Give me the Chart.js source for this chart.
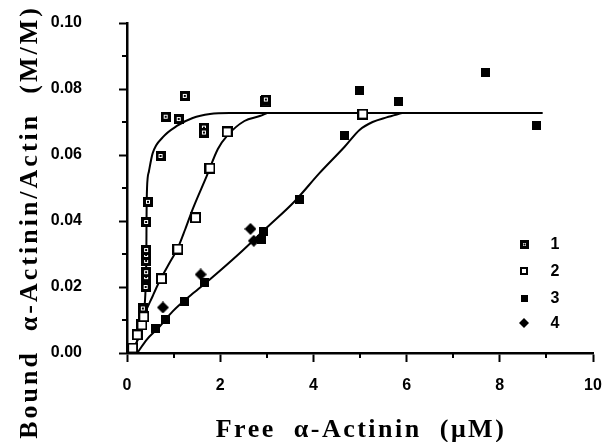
<!DOCTYPE html>
<html><head><meta charset="utf-8">
<script src="https://cdn.jsdelivr.net/npm/chart.js@4/dist/chart.umd.min.js"></script>
<style>html,body{margin:0;padding:0;background:#fff}#wrap{width:606px;height:442px}</style>
</head><body><div id="wrap"><canvas id="c" width="606" height="442"></canvas></div>
<script>
// ---- tick labels / titles ----
const xTickValues = [0, 2, 4, 6, 8, 10];
const xTickLabels = ['0', '2', '4', '6', '8', '10'];
const yTickValues = [0, 0.02, 0.04, 0.06, 0.08, 0.10];
const yTickLabels = ['0.00', '0.02', '0.04', '0.06', '0.08', '0.10'];
const xMinorTicks = [1, 3, 5, 7, 9];
const yMinorTicks = [0.01, 0.03, 0.05, 0.07, 0.09];
const xTitle = 'Free  α-Actinin  (μM)';
const yTitle = 'Bound  α-Actinin/Actin  (M/M)';
const legendLabels = ['1', '2', '3', '4'];

// ---- series 1 (square with dot) ----
const s1X = [0.34, 0.40, 0.41, 0.41, 0.41, 0.41, 0.41, 0.41, 0.45, 0.72, 0.83, 1.11, 1.24, 1.65, 1.65, 2.98];
const s1Y = [0.0135, 0.0200, 0.0230, 0.0245, 0.0279, 0.0297, 0.0312, 0.0397, 0.0458, 0.0597, 0.0716, 0.0709, 0.0779, 0.0683, 0.0668, 0.0768];
// ---- series 2 (open square) ----
const s2X = [0.12, 0.22, 0.32, 0.36, 0.74, 1.09, 1.47, 1.78, 2.15, 2.98, 5.06];
const s2Y = [0.0015, 0.0055, 0.0085, 0.0110, 0.0225, 0.0315, 0.0410, 0.0560, 0.0670, 0.0762, 0.0724];
// ---- series 3 (filled square) ----
const s3X = [0.62, 0.82, 1.24, 1.66, 2.88, 2.92, 3.70, 4.67, 4.99, 5.83, 7.70, 8.79];
const s3Y = [0.0075, 0.0102, 0.0157, 0.0213, 0.0345, 0.0368, 0.0464, 0.0660, 0.0794, 0.0763, 0.0851, 0.0690];
// ---- series 4 (filled diamond) ----
const s4X = [0.77, 1.58, 2.65, 2.72];
const s4Y = [0.0138, 0.0238, 0.0376, 0.0340];

// ---- fitted curves ----
const c1X = [0.08, 0.20, 0.30, 0.36, 0.40, 0.415, 0.42, 0.43, 0.47, 0.55, 0.77, 1.07, 1.41, 1.78, 2.20, 8.92];
const c1Y = [0.000, 0.003, 0.007, 0.012, 0.020, 0.030, 0.042, 0.050, 0.055, 0.0605, 0.0654, 0.0688, 0.0712, 0.0724, 0.0727, 0.0727];
const c2X = [0.12, 0.25, 0.36, 0.55, 0.70, 0.92, 1.09, 1.25, 1.41, 1.71, 1.95, 2.16, 2.52, 2.85, 3.0];
const c2Y = [0.000, 0.005, 0.011, 0.0172, 0.0218, 0.0275, 0.0318, 0.0375, 0.0436, 0.0536, 0.0618, 0.0660, 0.0703, 0.0718, 0.0727];
const c3X = [0.22, 0.42, 0.70, 0.98, 1.41, 1.77, 2.40, 3.00, 3.60, 4.13, 4.67, 4.99, 5.27, 5.57, 5.90];
const c3Y = [0.000, 0.004, 0.008, 0.0126, 0.0180, 0.0222, 0.0300, 0.0380, 0.0460, 0.0545, 0.0625, 0.0676, 0.0700, 0.0714, 0.0727];

const pts = (xs, ys) => xs.map((x, i) => ({ x: x, y: ys[i] }));

function marker(kind, s) {
  const c = document.createElement('canvas');
  c.width = s; c.height = s;
  const g = c.getContext('2d');
  g.fillStyle = '#000';
  if (kind === 'dotsq') {
    g.fillRect(0, 0, s, s);
    const b = 3;
    g.fillStyle = '#fff'; g.fillRect(b, b, s - 2 * b, s - 2 * b);
    g.fillStyle = '#000'; g.fillRect(s / 2 - 1, s / 2 - 1, 2, 2);
  } else if (kind === 'opensq') {
    g.fillRect(0, 0, s, s);
    g.fillStyle = '#fff'; g.fillRect(2, 2, s - 4, s - 4);
  } else if (kind === 'fillsq') {
    g.fillRect(0, 0, s, s);
  } else {
    g.beginPath(); g.moveTo(s / 2, 0); g.lineTo(s, s / 2); g.lineTo(s / 2, s); g.lineTo(0, s / 2); g.closePath(); g.fill();
  }
  return c;
}
const kinds = ['dotsq', 'opensq', 'fillsq', 'diamond'];
const plotSizes = [10, 11, 9, 12];
const legendSizes = [9, 8, 7, 10];
const plotMarkers = kinds.map((k, i) => marker(k, plotSizes[i]));
const legendMarkers = kinds.map((k, i) => marker(k, legendSizes[i]));

function scatterSet(label, data, img) {
  return { label: label, data: data, showLine: false, pointStyle: img, pointRadius: 5, pointHoverRadius: 5 };
}
function curveSet(data) {
  return { label: '', data: data, showLine: true, borderColor: '#000', borderWidth: 2,
    pointRadius: 0, pointHoverRadius: 0, cubicInterpolationMode: 'monotone', fill: false };
}

const tickFont = { family: '"Liberation Sans", Arial, sans-serif', size: 16, weight: 'bold' };

const extras = {
  id: 'extras',
  afterDraw(chart) {
    const ctx = chart.ctx, xs = chart.scales.x, ys = chart.scales.y, ca = chart.chartArea;
    ctx.save();
    ctx.strokeStyle = '#000'; ctx.lineWidth = 2;
    xMinorTicks.forEach(v => { const px = Math.round(xs.getPixelForValue(v)); ctx.beginPath(); ctx.moveTo(px, ca.bottom); ctx.lineTo(px, ca.bottom + 5); ctx.stroke(); });
    yMinorTicks.forEach(v => { const py = Math.round(ys.getPixelForValue(v)); ctx.beginPath(); ctx.moveTo(ca.left, py); ctx.lineTo(ca.left - 5, py); ctx.stroke(); });
    // legend
    const rowsY = [244, 271, 298, 323];
    ctx.font = 'bold 16px "Liberation Sans", Arial, sans-serif';
    ctx.fillStyle = '#000'; ctx.textAlign = 'center'; ctx.textBaseline = 'middle';
    legendLabels.forEach((t, i) => {
      const m = legendMarkers[i];
      ctx.drawImage(m, Math.round(524 - m.width / 2), Math.round(rowsY[i] - m.height / 2));
      ctx.fillText(t, 555, rowsY[i] + 1);
    });
    // axis titles
    ctx.font = 'bold 26px "Liberation Serif", "Times New Roman", serif';
    ctx.textAlign = 'center'; ctx.textBaseline = 'alphabetic';
    ctx.letterSpacing = '2.5px';
    ctx.fillText(xTitle, 361, 437);
    ctx.translate(37, 222);
    ctx.rotate(-Math.PI / 2);
    ctx.letterSpacing = '3px';
    ctx.fillText(yTitle, 0, 0);
    ctx.restore();
  }
};

new Chart(document.getElementById('c'), {
  type: 'scatter',
  data: {
    datasets: [
      scatterSet('1', pts(s1X, s1Y), plotMarkers[0]),
      scatterSet('2', pts(s2X, s2Y), plotMarkers[1]),
      scatterSet('3', pts(s3X, s3Y), plotMarkers[2]),
      scatterSet('4', pts(s4X, s4Y), plotMarkers[3]),
      curveSet(pts(c1X, c1Y)),
      curveSet(pts(c2X, c2Y)),
      curveSet(pts(c3X, c3Y))
    ]
  },
  options: {
    responsive: false, animation: false, devicePixelRatio: 1, events: [],
    layout: { autoPadding: false, padding: { top: 23, right: 13, left: 0, bottom: 0 } },
    plugins: { legend: { display: false }, tooltip: { enabled: false } },
    scales: {
      x: {
        type: 'linear', min: 0, max: 10,
        afterBuildTicks: s => { s.ticks = xTickValues.map(v => ({ value: v })); },
        afterFit: s => { s.height = 89; s.paddingLeft = 0; s.paddingRight = 0; },
        ticks: { callback: v => xTickLabels[xTickValues.indexOf(v)], font: tickFont, color: '#000', padding: 14, maxRotation: 0, autoSkip: false },
        grid: { drawOnChartArea: false, drawTicks: true, tickLength: 9, tickWidth: 2, tickColor: '#000' },
        border: { display: true, color: '#000', width: 2.5 }
      },
      y: {
        type: 'linear', min: 0, max: 0.1,
        afterBuildTicks: s => { s.ticks = yTickValues.map(v => ({ value: v })); },
        afterFit: s => { s.width = 127; s.paddingTop = 0; s.paddingBottom = 0; },
        ticks: { callback: v => yTickLabels[yTickValues.findIndex(t => Math.abs(t - v) < 1e-9)], font: tickFont, color: '#000', padding: 37, autoSkip: false },
        grid: { drawOnChartArea: false, drawTicks: true, tickLength: 8, tickWidth: 2, tickColor: '#000' },
        border: { display: true, color: '#000', width: 2.5 }
      }
    }
  },
  plugins: [extras]
});
</script></body></html>
